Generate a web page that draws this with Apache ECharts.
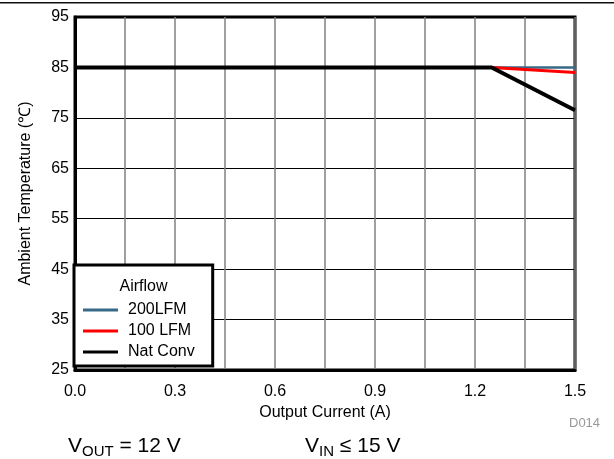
<!DOCTYPE html>
<html>
<head>
<meta charset="utf-8">
<script src="https://cdn.jsdelivr.net/npm/echarts@6/dist/echarts.min.js"></script>
<style>
html,body{margin:0;padding:0;background:#fff;}
#chart{width:614px;height:459px;}
</style>
</head>
<body>
<div id="chart"></div>
<script>
// ---- data ----
var seriesNames = ['200LFM', '100 LFM', 'Nat Conv'];
var currentAxis = [0.0, 1.25, 1.5];              // output current (A) breakpoints
var temp200LFM = [85, 85, 85];                   // ambient temperature (°C)
var temp100LFM = [85, 85, 84];
var tempNatConv = [85, 85, 76.5];
var xTicks = [0.0, 0.3, 0.6, 0.9, 1.2, 1.5];
var yTicks = [25, 35, 45, 55, 65, 75, 85, 95];

function pairs(xs, ys) { return xs.map(function (x, i) { return [x, ys[i]]; }); }

var FONT = 'Liberation Sans, Arial, sans-serif';
var chart = echarts.init(document.getElementById('chart'), null, {renderer: 'canvas'});

var option = {
  animation: false,
  backgroundColor: '#fff',
  textStyle: {fontFamily: FONT},
  grid: {left: 75, right: 39, top: 17, bottom: 89, show: true, borderColor: '#000', borderWidth: 3, backgroundColor: 'transparent'},
  xAxis: {
    type: 'value', min: 0, max: 1.5, interval: 0.15,
    name: 'Output Current (A)', nameLocation: 'middle', nameGap: 33,
    nameTextStyle: {fontSize: 16, color: '#000', fontFamily: FONT},
    axisLine: {show: true, lineStyle: {color: '#000', width: 3}},
    axisTick: {show: false},
    axisLabel: {
      fontSize: 16, color: '#000', margin: 14, fontFamily: FONT,
      formatter: function (v) {
        for (var i = 0; i < xTicks.length; i++) {
          if (Math.abs(xTicks[i] - v) < 1e-6) return xTicks[i].toFixed(1);
        }
        return '';
      }
    },
    splitLine: {show: true, lineStyle: {color: '#808080', width: 1.5}}
  },
  yAxis: {
    type: 'value', min: yTicks[0], max: yTicks[yTicks.length - 1], interval: 10,
    name: 'Ambient Temperature (℃)', nameLocation: 'middle', nameGap: 41, nameRotate: 90,
    nameTextStyle: {fontSize: 16, color: '#000', fontFamily: FONT},
    axisLine: {show: true, lineStyle: {color: '#000', width: 3}},
    axisTick: {show: false},
    axisLabel: {fontSize: 16, color: '#000', margin: 6, fontFamily: FONT},
    splitLine: {show: true, lineStyle: {color: '#000', width: 1}}
  },
  legend: {
    show: true, orient: 'vertical', left: 74, top: 265,
    data: seriesNames,
    icon: 'rect', itemWidth: 35, itemHeight: 3, itemGap: 5,
    padding: [37, 18, 6, 9],
    borderColor: '#000', borderWidth: 3, backgroundColor: '#fff',
    textStyle: {fontSize: 16, lineHeight: 16, color: '#000', fontFamily: FONT, padding: [0, 0, 0, 5]},
    selectedMode: false, z: 10
  },
  graphic: [
    {type: 'rect', left: 0, top: 2, shape: {width: 614, height: 1.5}, style: {fill: '#111'}, silent: true},
    {type: 'text', x: 143.5, y: 287, z: 100, style: {text: 'Airflow', fill: '#000', font: '16px ' + FONT, textAlign: 'center', textVerticalAlign: 'middle'}},
    {type: 'text', left: 569, top: 417, style: {text: 'D014', fill: '#999', font: '13px ' + FONT}},
    {type: 'text', left: 68, top: 436, style: {
      text: '{a|V}{b|OUT}{a| = 12 V}',
      rich: {
        a: {fontSize: 21, lineHeight: 26, fill: '#000', fontFamily: FONT, verticalAlign: 'middle'},
        b: {fontSize: 15, lineHeight: 16, fill: '#000', fontFamily: FONT, verticalAlign: 'bottom'}
      }
    }},
    {type: 'text', left: 305, top: 436, style: {
      text: '{a|V}{b|IN}{a| ≤ 15 V}',
      rich: {
        a: {fontSize: 21, lineHeight: 26, fill: '#000', fontFamily: FONT, verticalAlign: 'middle'},
        b: {fontSize: 15, lineHeight: 16, fill: '#000', fontFamily: FONT, verticalAlign: 'bottom'}
      }
    }}
  ],
  series: [
    {name: seriesNames[0], type: 'line', data: pairs(currentAxis, temp200LFM), showSymbol: false, symbol: 'none',
      lineStyle: {color: '#386a87', width: 2.5}, itemStyle: {color: '#386a87'}, z: 3},
    {name: seriesNames[1], type: 'line', data: pairs(currentAxis, temp100LFM), showSymbol: false, symbol: 'none',
      lineStyle: {color: '#ff0000', width: 3}, itemStyle: {color: '#ff0000'}, z: 4},
    {name: seriesNames[2], type: 'line', data: pairs(currentAxis, tempNatConv), showSymbol: false, symbol: 'none',
      lineStyle: {color: '#000', width: 4}, itemStyle: {color: '#000'}, z: 5}
  ]
};
chart.setOption(option);
</script>
</body>
</html>
